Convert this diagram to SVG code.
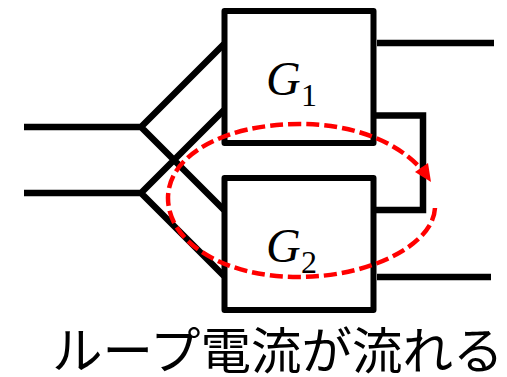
<svg xmlns="http://www.w3.org/2000/svg" width="507" height="377" viewBox="0 0 507 377">
<style>
.b{fill:none;stroke:#000;stroke-width:6;stroke-linejoin:round}
.w{fill:none;stroke:#000;stroke-width:6.5}
.g{font-family:"Liberation Serif",serif;font-style:italic;font-size:48px;fill:#000}
.s{font-family:"Liberation Serif",serif;font-size:32px;fill:#000}
.t{font-family:"Noto Sans CJK JP",sans-serif;font-size:50.500px;fill:#000}
</style>
<rect width="507" height="377" fill="#fff"/>
<g id="connectors">
<path class="w" d="M24 127H141M24 193H141M141 127L224 44M141 127L224 210M141 193L224 110M141 193L224 276"/>
<path class="w" d="M377 43H494M377 277H491M373 115.500H423V210H373"/>
</g>
<g id="G1"><rect class="b" x="224.500" y="11" width="149" height="132"/><text class="g" x="266" y="95">G</text><text class="s" x="301" y="106">1</text></g>
<g id="G2"><rect class="b" x="224.500" y="178" width="149" height="132"/><text class="g" x="266" y="262">G</text><text class="s" x="301" y="273">2</text></g>
<g id="loop">
<path d="M435 208C433 245 370 277 298 277C225 277 168 243 168 198C168 155 225 124 300 124C352 124 398 141 424 172" fill="none" stroke="#f00" stroke-width="4.500" stroke-dasharray="13 5"/>
<polygon points="415,172 428,163 431,182" fill="#f00"/>
</g>
<g id="caption"><text class="t" x="52" y="369">ループ電流が流れる</text></g>
</svg>
